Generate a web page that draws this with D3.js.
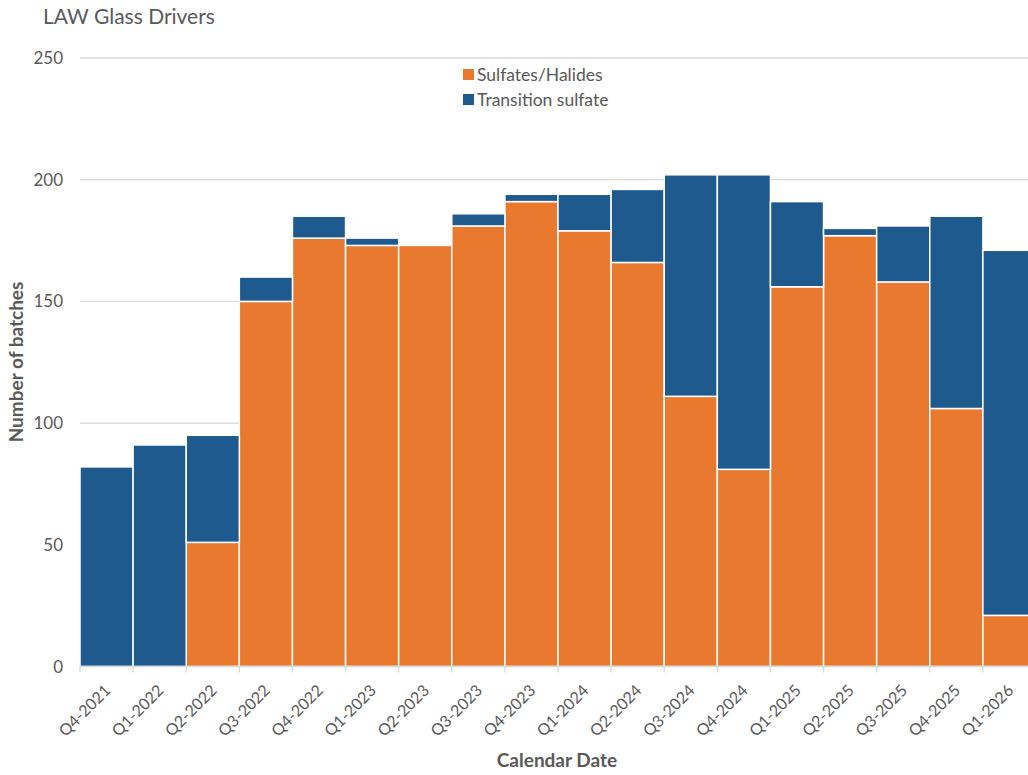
<!DOCTYPE html>
<html>
<head>
<meta charset="utf-8">
<script src="https://cdn.jsdelivr.net/npm/d3@7"></script>
<style>
  body { margin: 0; background: #fff; }
  svg { font-family: Lato, "Open Sans", sans-serif; }
</style>
</head>
<body>
<div class="canvas"></div>
<script>
// chart data
const quarters = ['Q4-2021','Q1-2022','Q2-2022','Q3-2022','Q4-2022','Q1-2023','Q2-2023','Q3-2023','Q4-2023',
	'Q1-2024','Q2-2024','Q3-2024','Q4-2024','Q1-2025','Q2-2025','Q3-2025','Q4-2025','Q1-2026'];
const sulfatesHalides = [0, 0, 51, 150, 176, 173, 173, 181, 191, 179, 166, 111, 81, 156, 177, 158, 106, 21];
const transitionSulfate = [82, 91, 44, 10, 9, 3, 0, 5, 3, 15, 30, 91, 121, 35, 3, 23, 79, 150];
const yTicks = [0, 50, 100, 150, 200, 250];
const seriesNames = ['Sulfates/Halides', 'Transition sulfate'];
const colors = ['#E8792F', '#1F5A8F'];

const width = 1028, height = 775;
const margin = {top: 58, left: 80, bottom: 108};

const svg = d3.select('.canvas')
	.append('svg')
	.attr('width', width)
	.attr('height', height);

const rows = quarters.map((q, i) => ({q, s0: sulfatesHalides[i], s1: transitionSulfate[i]}));
const stacked = d3.stack().keys(['s0', 's1'])(rows);

const x = d3.scaleBand()
	.domain(quarters)
	.range([margin.left, 1036])
	.padding(0);

const y = d3.scaleLinear()
	.domain([0, 250])
	.range([height - margin.bottom - 0.5, margin.top]);

// gridlines
svg.append('g')
	.selectAll('line')
	.data(yTicks.slice(1))
	.enter().append('line')
	.attr('x1', margin.left)
	.attr('x2', width)
	.attr('y1', d => y(d))
	.attr('y2', d => y(d))
	.attr('stroke', '#d9d9d9')
	.attr('stroke-width', 1.3);

// bars
svg.append('g')
	.selectAll('g')
	.data(stacked)
	.enter().append('g')
	.attr('fill', (d, i) => colors[i])
	.selectAll('rect')
	.data(d => d)
	.enter().append('rect')
	.attr('x', d => x(d.data.q))
	.attr('width', x.bandwidth())
	.attr('y', d => y(d[1]))
	.attr('height', d => y(d[0]) - y(d[1]))
	.attr('stroke', '#fff')
	.attr('stroke-width', d => d[1] > d[0] ? 1.5 : 0);

// x axis
const xAxisGroup = svg.append('g')
	.attr('transform', `translate(0,${y(0)})`);
xAxisGroup.append('line')
	.attr('x1', margin.left).attr('x2', width)
	.attr('stroke', '#d9d9d9').attr('stroke-width', 1.3);
xAxisGroup.selectAll('.tk')
	.data(quarters)
	.enter().append('line')
	.attr('x1', d => x(d)).attr('x2', d => x(d))
	.attr('y1', 0).attr('y2', 6)
	.attr('stroke', '#d9d9d9').attr('stroke-width', 1.3);
xAxisGroup.selectAll('text')
	.data(quarters)
	.enter().append('text')
	.attr('transform', d => `translate(${x(d) + x.bandwidth() / 2 + 5},${25}) rotate(-45)`)
	.attr('text-anchor', 'end')
	.attr('font-size', 16)
	.attr('fill', '#595959')
	.text(d => d);

// y axis labels
svg.append('g')
	.selectAll('text')
	.data(yTicks)
	.enter().append('text')
	.attr('x', 63)
	.attr('y', d => y(d) + 6)
	.attr('text-anchor', 'end')
	.attr('font-size', 17)
	.attr('fill', '#595959')
	.text(d => d);

// title & axis titles
svg.append('text')
	.attr('x', 43).attr('y', 24)
	.attr('font-size', 21)
	.attr('fill', '#595959')
	.text('LAW Glass Drivers');

svg.append('text')
	.attr('transform', `translate(23,362) rotate(-90)`)
	.attr('text-anchor', 'middle')
	.attr('font-size', 19)
	.attr('font-weight', 'bold')
	.attr('fill', '#595959')
	.text('Number of batches');

svg.append('text')
	.attr('x', 557).attr('y', 767)
	.attr('text-anchor', 'middle')
	.attr('font-size', 19)
	.attr('font-weight', 'bold')
	.attr('fill', '#595959')
	.text('Calendar Date');

// legend
const legend = svg.append('g')
	.attr('transform', 'translate(463,69)');
seriesNames.forEach((name, i) => {
	const item = legend.append('g').attr('transform', `translate(0,${i * 25})`);
	item.append('rect')
		.attr('width', 11).attr('height', 11)
		.attr('fill', colors[i]);
	item.append('text')
		.attr('x', 14).attr('y', 12)
		.attr('font-size', 17.5)
		.attr('fill', '#595959')
		.text(name);
});
</script>
</body>
</html>
